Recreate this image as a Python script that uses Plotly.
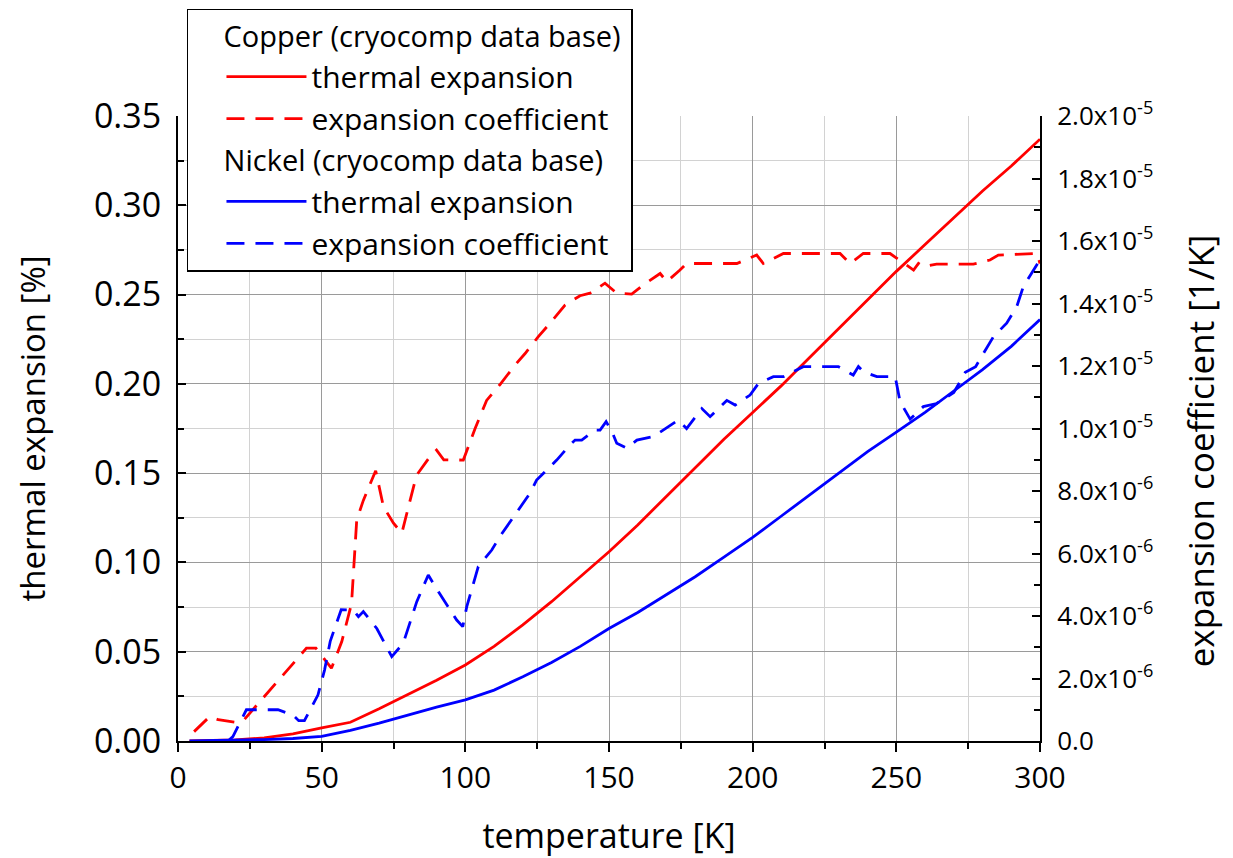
import plotly.graph_objects as go

# Temperature grid for the integrated thermal expansion curves [K]
temp = [4, 10, 20, 30, 40, 50, 60, 70, 80, 90, 100, 110, 120, 130, 140, 150,
        160, 170, 180, 190, 200, 210, 220, 230, 240, 250, 260, 270, 280, 290, 300]

# Thermal expansion [%]
cu_expansion = [0.0, 0.0002, 0.0006, 0.0018, 0.004, 0.0073, 0.0105, 0.018, 0.026,
                0.034, 0.0426, 0.053, 0.065, 0.078, 0.092, 0.106, 0.121, 0.137,
                0.153, 0.169, 0.184, 0.199, 0.215, 0.231, 0.247, 0.263, 0.278,
                0.293, 0.308, 0.322, 0.337]
ni_expansion = [0.0, 0.0001, 0.0003, 0.0008, 0.0014, 0.0026, 0.006, 0.010, 0.0145,
                0.019, 0.023, 0.0285, 0.036, 0.044, 0.053, 0.063, 0.072, 0.082,
                0.092, 0.103, 0.114, 0.126, 0.138, 0.150, 0.162, 0.173, 0.184,
                0.196, 0.208, 0.221, 0.236]

# Expansion coefficient of copper [1e-6 1/K]
cu_alpha_T = [5.6, 11, 14, 20, 23, 44.7, 48, 53.4, 57, 60.4, 62.2, 64.5, 68.8, 71.5,
              75, 77.9, 80.5, 83, 87.7, 90, 92.5, 99.3, 103.4, 107.4, 112, 117.3,
              120.8, 125.4, 129.5, 134.7, 139.9, 143.4, 148.6, 152.7, 157.9, 162,
              167.8, 170.1, 174.7, 177, 194.5, 201.4, 203.7, 210.7, 230.4, 233.9,
              238.5, 247.8, 256, 257.7, 259.4, 264, 276.8, 282.6, 285.5, 298.9, 300]
cu_alpha = [0.3, 0.78, 0.68, 0.6, 0.68, 2.97, 2.97, 2.33, 3.18, 4.4, 7.07, 7.7, 8.65,
            7.5, 6.97, 6.65, 7.6, 8.5, 9.1, 9.31, 9.0, 8.99, 10.0, 10.9, 11.4, 12.03,
            12.4, 12.94, 13.37, 13.95, 14.25, 14.33, 14.65, 14.33, 14.3, 14.6,
            14.96, 14.7, 15.07, 15.28, 15.28, 15.55, 15.28, 15.6, 15.6, 15.28,
            15.6, 15.6, 15.07, 15.28, 15.18, 15.26, 15.26, 15.39, 15.55, 15.6, 15.28]

# Expansion coefficient of nickel [1e-6 1/K]
ni_alpha_T = [17.4, 19.1, 23.8, 34.8, 40, 42, 44, 48.7, 51, 53, 56.8, 61, 62.8, 64.5,
              69.2, 74.4, 78.4, 83.1, 87.1, 90.6, 97, 99.1, 100.5, 104.5, 109.2, 112,
              117, 122.5, 124.8, 127.7, 131.8, 136.4, 138.2, 140.5, 145.1, 146.9, 149,
              151, 152.7, 156.2, 159.7, 165.4, 168.9, 174.1, 177, 182.3, 185.2, 191,
              193.9, 199.1, 202, 207.2, 210.7, 217.6, 229.8, 235, 236.8, 238.5, 243.2,
              249.6, 251.3, 254.8, 259.4, 264, 270, 274, 277.6, 280.3, 283.8, 288.4,
              291.9, 294.2, 297.1, 300]
ni_alpha = [0.0, 0.14, 1.0, 1.0, 0.83, 0.65, 0.65, 1.47, 2.27, 3.2, 4.2, 4.19, 3.98,
            4.14, 3.6, 2.7, 3.13, 4.46, 5.31, 4.78, 3.87, 3.66, 4.3, 5.58, 6.11, 6.54,
            7.2, 7.93, 8.35, 8.62, 8.99, 9.47, 9.63, 9.63, 9.95, 9.95, 10.22, 9.9,
            9.53, 9.37, 9.63, 9.74, 9.95, 10.27, 10.0, 10.64, 10.38, 10.9, 10.75,
            11.07, 11.44, 11.66, 11.66, 11.98, 11.98, 11.71, 11.98, 11.82, 11.66,
            11.66, 10.86, 10.3, 10.7, 10.8, 11.15, 11.8, 11.98, 12.4, 12.94, 13.37,
            13.9, 14.54, 14.96, 15.4]

# Right axis tick labels
alpha_ticks = [i * 2e-6 for i in range(11)]
alpha_ticktext = ["0.0"] + [f"{v:.1f}x10<sup>-6</sup>" for v in (2, 4, 6, 8)] + \
                 [f"{v:.1f}x10<sup>-5</sup>" for v in (1.0, 1.2, 1.4, 1.6, 1.8, 2.0)]

RED = "#ff0000"
BLUE = "#0000ff"
FONT = "Open Sans"
DASH = "18px,11px"
LW = 2.8
NBSP = "\u00a0" * 4  # indent group titles in line with the entry symbols

fig = go.Figure()
fig.add_trace(go.Scatter(
    x=temp, y=cu_expansion, mode="lines", name="thermal expansion",
    line=dict(color=RED, width=LW), legendgroup="cu",
    legendgrouptitle=dict(text=NBSP + "Copper (cryocomp data base)")))
fig.add_trace(go.Scatter(
    x=cu_alpha_T, y=[a * 1e-6 for a in cu_alpha], mode="lines",
    name="expansion coefficient", yaxis="y2",
    line=dict(color=RED, width=LW, dash=DASH), legendgroup="cu"))
fig.add_trace(go.Scatter(
    x=temp, y=ni_expansion, mode="lines", name="thermal expansion",
    line=dict(color=BLUE, width=LW), legendgroup="ni",
    legendgrouptitle=dict(text=NBSP + "Nickel (cryocomp data base)")))
fig.add_trace(go.Scatter(
    x=ni_alpha_T, y=[a * 1e-6 for a in ni_alpha], mode="lines",
    name="expansion coefficient", yaxis="y2",
    line=dict(color=BLUE, width=LW, dash=DASH), legendgroup="ni"))

fig.update_layout(
    width=1233, height=858,
    margin=dict(l=178, r=193, t=116, b=117, autoexpand=False),
    paper_bgcolor="white", plot_bgcolor="white",
    font=dict(family=FONT, color="black", size=28),
    showlegend=True,
    legend=dict(
        x=0.0104, y=1.172, xanchor="left", yanchor="top",
        bgcolor="white", bordercolor="black", borderwidth=1.5,
        font=dict(family=FONT, size=30, color="black"),
        grouptitlefont=dict(family=FONT, size=29, color="black"),
        traceorder="grouped", tracegroupgap=0, itemwidth=80,
        indentation=33,
    ),
    xaxis=dict(
        range=[0, 300], dtick=50, tick0=0, automargin=False,
        showline=True, linecolor="black", linewidth=2,
        ticks="outside", ticklen=9, tickwidth=2, tickcolor="black",
        showgrid=True, gridcolor="#9a9a9a", gridwidth=1.2,
        zeroline=False,
        tickfont=dict(family=FONT, size=30),
        minor=dict(dtick=25, ticks="outside", ticklen=6, tickwidth=2,
                   tickcolor="black", showgrid=True, gridcolor="#d2d2d2",
                   gridwidth=1.2),
        title=dict(text="temperature [K]", font=dict(family=FONT, size=34),
                   standoff=30),
    ),
    yaxis=dict(
        range=[0, 0.35], dtick=0.05, tick0=0, tickformat=".2f", automargin=False,
        showline=True, linecolor="black", linewidth=2,
        ticks="inside", ticklen=8, tickwidth=2, tickcolor="black",
        showgrid=True, gridcolor="#9a9a9a", gridwidth=1.2,
        zeroline=False, ticklabelstandoff=8,
        tickfont=dict(family=FONT, size=34),
        minor=dict(dtick=0.025, ticks="inside", ticklen=6, tickwidth=2,
                   tickcolor="black", showgrid=True, gridcolor="#d2d2d2",
                   gridwidth=1.2),
        title=dict(text="thermal expansion [%]", font=dict(family=FONT, size=33),
                   standoff=38),
    ),
    yaxis2=dict(
        overlaying="y", side="right", range=[0, 2e-5], automargin=False,
        tickmode="array", tickvals=alpha_ticks, ticktext=alpha_ticktext,
        showline=True, linecolor="black", linewidth=2,
        ticks="inside", ticklen=8, tickwidth=2, tickcolor="black",
        showgrid=False, zeroline=False, ticklabelstandoff=10,
        tickfont=dict(family=FONT, size=26),
        minor=dict(dtick=1e-6, tick0=0, ticks="inside", ticklen=6, tickwidth=2,
                   tickcolor="black", showgrid=False),
    ),
    annotations=[dict(
        text="expansion coefficient [1/K]", textangle=-90,
        xref="paper", yref="paper", x=1.186, y=0.464,
        xanchor="center", yanchor="middle", showarrow=False,
        font=dict(family=FONT, size=35, color="black"),
    )],
)

fig.write_html("out.html")
